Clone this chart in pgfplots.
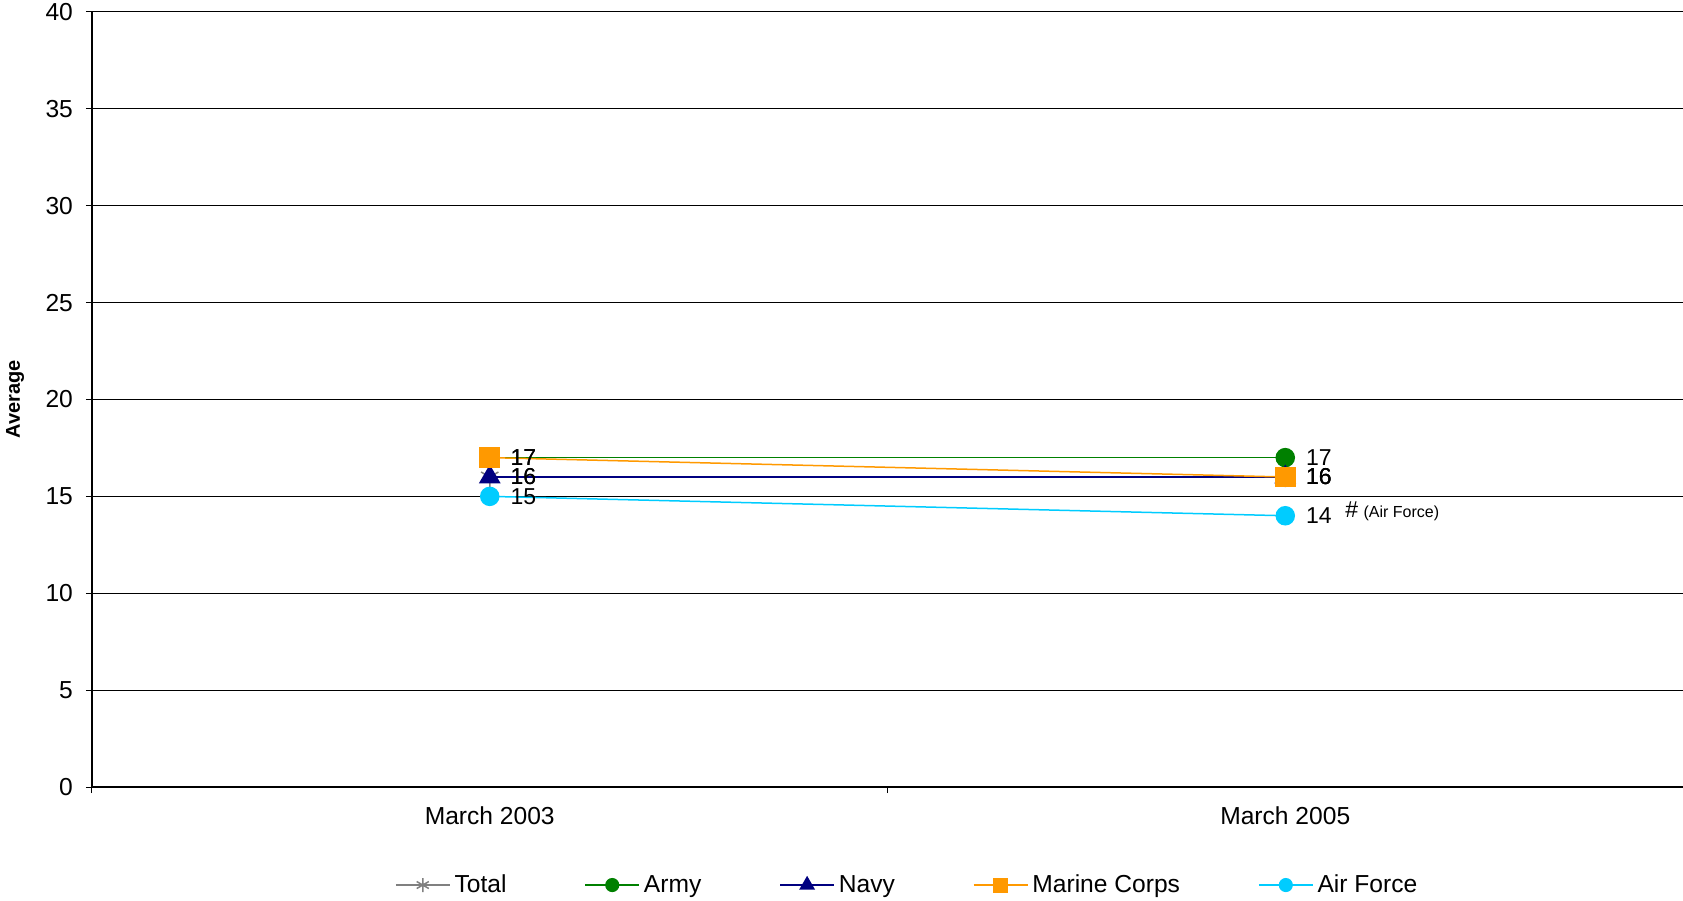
\documentclass[border=0pt]{standalone}
\usepackage{pgfplots}
\pgfplotsset{compat=1.18}
\usepackage{fontspec}
\setmainfont{Liberation Sans}
\definecolor{cTotal}{RGB}{128,128,128}
\definecolor{cArmy}{RGB}{0,128,0}
\definecolor{cNavy}{RGB}{0,0,128}
\definecolor{cMarine}{RGB}{255,153,0}
\definecolor{cAir}{RGB}{0,204,255}
\begin{document}
\begin{tikzpicture}
\begin{axis}[
  scale only axis,
  width=795.5pt, height=387.5pt,
  xmin=-0.5, xmax=1.5, ymin=0, ymax=40,
  axis lines*=left,
  axis line style={black, line width=0.6pt},
  xtick={-0.5,0.5,1.5},
  xticklabels={},
  extra x ticks={0,1},
  extra x tick labels={March 2003, March 2005},
  extra x tick style={major tick length=0pt, grid=none, tick style={draw=none}},
  ytick={0,5,...,40},
  ymajorgrids,
  major grid style={black, line width=0.5pt},
  tick align=outside,
  major tick length=3pt,
  tick style={black, line width=0.5pt},
  /pgf/number format/assume math mode=true,
  tick label style={font=\fontsize{12.3}{14}\selectfont},
  yticklabel style={xshift=-3pt},
  xticklabel style={yshift=-6.5pt},
  ylabel={\bfseries Average},
  every axis y label/.style={at={(axis description cs:-0.0484,0.5)}, rotate=90, anchor=center, font=\fontsize{10}{12}\selectfont},
  legend columns=5,
  legend style={draw=none, at={(0.513,-0.1265)}, anchor=center, font=\fontsize{12.3}{14}\selectfont,
    /tikz/every even column/.append style={column sep=37pt}},
  legend image code/.code={\draw[mark repeat=2,mark phase=2, every mark/.append style={scale=0.7}] plot coordinates {(0pt,0pt)(13.5pt,0pt)(27pt,0pt)};},
  every axis plot/.append style={line width=0.75pt},
  nodes near coords,
  every node near coord/.append style={anchor=west, inner sep=0pt, xshift=10pt, black, font=\fontsize{11.5}{13}\selectfont},
]
\coordinate (bl) at (rel axis cs:0,0);
\coordinate (tr) at (rel axis cs:1,1);
\addplot[color=cTotal, mark=asterisk, mark size=5pt] coordinates {(0,16) (1,16)};
\addlegendentry{Total}
\addplot[color=cArmy, mark=*, mark size=4.5pt] coordinates {(0,17) (1,17)};
\addlegendentry{Army}
\addplot[color=cNavy, mark=triangle*, mark size=5.5pt] coordinates {(0,16) (1,16)};
\addlegendentry{Navy}
\addplot[color=cMarine, mark=square*, mark size=4.8pt] coordinates {(0,17) (1,16)};
\addlegendentry{Marine Corps}
\addplot[color=cAir, mark=*, mark size=4.5pt] coordinates {(0,15) (1,14)};
\addlegendentry{Air Force}
\node[anchor=west, inner sep=0pt, font=\fontsize{11.5}{13}\selectfont] at (axis cs:1.075,14.3) {\#};
\node[anchor=west, inner sep=0pt, font=\fontsize{8}{9}\selectfont] at (axis cs:1.098,14.1) {(Air Force)};
\end{axis}
\pgfresetboundingbox
\path[use as bounding box] ([shift={(-46pt,-56.5pt)}]bl) rectangle ([shift={(0pt,6pt)}]tr);
\end{tikzpicture}
\end{document}
